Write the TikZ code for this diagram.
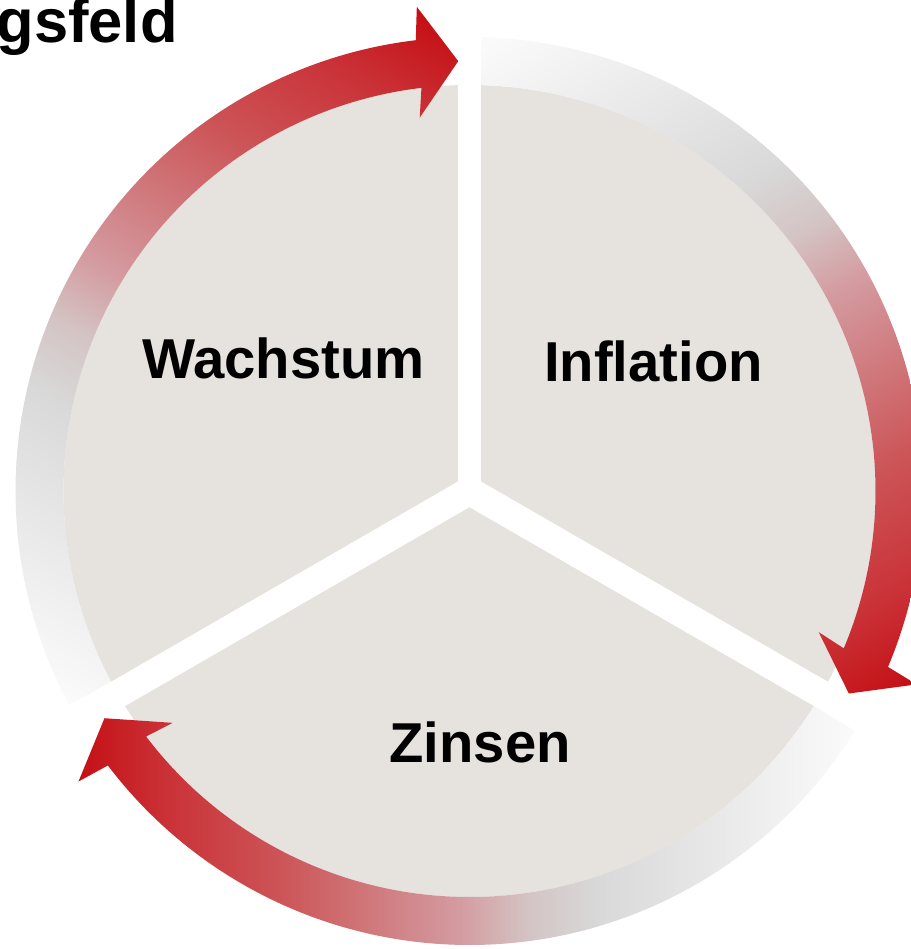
\documentclass[tikz,border=0pt]{standalone}
\usepackage{fontspec}
\setmainfont{Liberation Sans}
\usetikzlibrary{calc}
\definecolor{sectorgray}{RGB}{230,226,222}
\pgfdeclarehorizontalshading{ringfade}{100bp}{rgb(0bp)=(0.76,0.04,0.06); rgb(30bp)=(0.77,0.05,0.07);
	rgb(35bp)=(0.79,0.20,0.22); rgb(40.5bp)=(0.80,0.33,0.34); rgb(49.5bp)=(0.83,0.61,0.63);
	rgb(53bp)=(0.83,0.77,0.77); rgb(56.5bp)=(0.85,0.85,0.85); rgb(69bp)=(0.98,0.98,0.98);
	rgb(100bp)=(0.98,0.98,0.98)}

\begin{document}
\begin{tikzpicture}[x=0.02cm, y=0.02cm,
		sectorlabel/.style={inner sep=0pt, font=\fontsize{32}{38}\selectfont\bfseries},
		gap/.style={draw=white, line cap=butt}]
		\useasboundingbox (0,-949) rectangle (911,0);
		\coordinate (O) at (469.5,-491);
		\fill[sectorgray] (O) circle[radius=406];
		\foreach \ta/\tb/\sa in {208.1/91.5/-120, 88.5/-28.1/120, -31.9/-148.1/0}{
			\begin{scope}
				\clip ($(O)+(\ta:454)$) arc[start angle=\ta, end angle=\tb+5.3, radius=454]
					-- ($(O)+(\tb:430)+(\tb+90:40)+(\tb:55.5)$) -- ($(O)+(\tb:430)$)
					-- ($(O)+(\tb:430)+(\tb+90:40)+(\tb+180:55.5)$) -- ($(O)+(\tb+5.3:406)$)
					arc[start angle=\tb+5.3, end angle=\ta, radius=406] -- cycle;
				\shade[shading=ringfade, shading angle=\sa] ($(O)+(-500,-500)$) rectangle ($(O)+(500,500)$);
			\end{scope}
		}
		\draw[gap, line width=0.46cm] (O) -- ++(90:470);
		\draw[gap, line width=0.56cm] (O) -- ++(210:470);
		\draw[gap, line width=0.56cm] (O) -- ++(330:470);
		\node[sectorlabel] (wachstum) at (283.5,-358) {Wachstum};
		\node[sectorlabel] (inflation) at (653.5,-361) {Inflation};
		\node[sectorlabel] (zinsen) at (480,-742) {Zinsen};
		\node[anchor=base east, inner sep=0pt, font=\fontsize{35}{42}\selectfont\bfseries] (title) at (178,-43) {gsfeld};
	\end{tikzpicture}
\end{document}
